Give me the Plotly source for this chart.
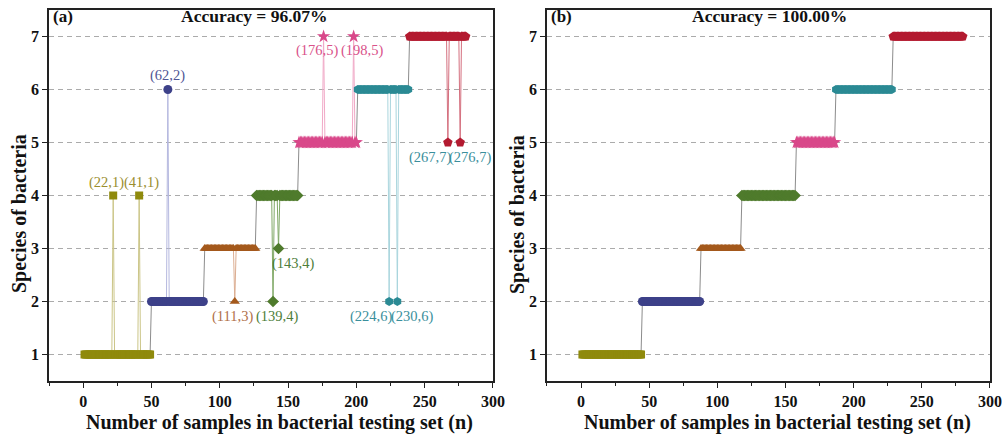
import plotly.graph_objects as go

# ---------------- data ----------------
class_names = [1, 2, 3, 4, 5, 6, 7]
n_samples = 280
# first sample index of each true class (panel a / panel b)
class_start_a = [1, 50, 89, 127, 158, 201, 239]
class_start_b = [1, 45, 88, 118, 158, 187, 229]
# misclassified samples in panel (a): sample index, true class, predicted class
err_x = [22, 41, 62, 111, 139, 143, 176, 198, 224, 230, 267, 276]
err_true = [1, 1, 2, 3, 4, 4, 5, 5, 6, 6, 7, 7]
err_pred = [4, 4, 6, 2, 2, 3, 7, 7, 2, 2, 5, 5]
acc_a = "Accuracy = 96.07%"
acc_b = "Accuracy = 100.00%"
x_title = "Number of samples in bacterial testing set (n)"
y_title = "Species of bacteria"
x_ticks = [0, 50, 100, 150, 200, 250, 300]
y_ticks = [1, 2, 3, 4, 5, 6, 7]

# ---------------- style ----------------
colors = ["#8f8a0c", "#3d4189", "#a4591c", "#4f7b2c", "#d9488a", "#2b8a94", "#b31a30"]
spike_colors = ["#cbc587", "#b5b8df", "#dcae92", "#7fa866", "#f1a9c7", "#a9d5dd", "#d5707f"]
label_colors = ["#9a8e2e", "#4f5595", "#b07049", "#4e7e3a", "#d9528a", "#3a8f9c", "#3a8f9c"]
symbols = ["square", "circle", "triangle-up", "diamond", "star", "hexagon", "pentagon"]
sizes = [8, 9, 9, 9, 10, 9, 10]
# label pixel offsets (xshift, yshift) for each misclassified label
lab_shift = [(-7, 13), (2, 13), (0, 14), (-2, -15), (4, -15), (14, -15),
             (-7, -14), (8, -14), (-18, -15), (15, -15), (-18, -15), (10, -15)]

SERIF = "Liberation Serif"

fig = go.Figure()


def build_panel(starts, errors, xa, ya):
    xs = list(range(1, n_samples + 1))
    true = []
    for i in xs:
        c = 1
        for k, s in enumerate(starts):
            if i >= s:
                c = class_names[k]
        true.append(c)
    pred = list(true)
    for ex, et, ep in errors:
        pred[ex - 1] = ep
    # gray transitions between classes
    gx, gy = [], []
    for k in range(1, len(starts)):
        s = starts[k]
        gx += [s - 1, s, None]
        gy += [pred[s - 2], pred[s - 1], None]
    fig.add_trace(go.Scatter(x=gx, y=gy, mode="lines", xaxis=xa, yaxis=ya,
                             line=dict(color="#8c8c8c", width=1), showlegend=False,
                             hoverinfo="skip"))
    for k, c in enumerate(class_names):
        cx = [x for x, t in zip(xs, true) if t == c]
        cy = [pred[x - 1] for x in cx]
        fig.add_trace(go.Scatter(x=cx, y=cy, mode="lines", xaxis=xa, yaxis=ya,
                                 line=dict(color=spike_colors[k], width=1),
                                 showlegend=False, hoverinfo="skip"))
    for k, c in enumerate(class_names):
        cx = [x for x, t in zip(xs, true) if t == c]
        cy = [pred[x - 1] for x in cx]
        fig.add_trace(go.Scatter(x=cx, y=cy, mode="markers", xaxis=xa, yaxis=ya,
                                 marker=dict(color=colors[k], symbol=symbols[k], size=sizes[k],
                                             line=dict(width=0)),
                                 name=str(c), showlegend=False))


build_panel(class_start_a, list(zip(err_x, err_true, err_pred)), "x", "y")
build_panel(class_start_b, [], "x2", "y2")

# misclassification labels in panel (a)
for (ex, et, ep), (dx, dy) in zip(zip(err_x, err_true, err_pred), lab_shift):
    fig.add_annotation(x=ex, y=ep, xref="x", yref="y", text=f"({ex},{et})",
                       showarrow=False, xshift=dx, yshift=dy,
                       font=dict(family=SERIF, size=14.5, color=label_colors[et - 1]))

# panel labels, accuracy titles, axis titles
for xr, yr, lab, acc, ax in [("x domain", "y domain", "(a)", acc_a, 0.464),
                             ("x2 domain", "y2 domain", "(b)", acc_b, 0.503)]:
    fig.add_annotation(x=0.004, y=0.983, xref=xr, yref=yr, text=f"<b>{lab}</b>",
                       showarrow=False, xanchor="left", yanchor="middle",
                       font=dict(family=SERIF, size=17, color="#111"))
    fig.add_annotation(x=ax, y=0.983, xref=xr, yref=yr, text=f"<b>{acc}</b>",
                       showarrow=False, xanchor="center", yanchor="middle",
                       font=dict(family=SERIF, size=17.5, color="#111"))
    fig.add_annotation(x=0.52, y=0, xref=xr, yref=yr, text=f"<b>{x_title}</b>",
                       showarrow=False, xanchor="center", yanchor="middle", yshift=-41,
                       font=dict(family=SERIF, size=20, color="#111"))
    fig.add_annotation(x=0, y=0.45, xref=xr, yref=yr, text=f"<b>{y_title}</b>",
                       showarrow=False, xanchor="center", yanchor="middle", xshift=-30,
                       textangle=-90, font=dict(family=SERIF, size=20, color="#111"))

xaxis_common = dict(range=[-25, 300], tickvals=x_ticks, ticks="outside", ticklen=5,
                    tickwidth=1.3, tickcolor="#222",
                    minor=dict(dtick=25, tick0=0, ticks="outside", ticklen=3, tickwidth=1,
                               tickcolor="#222", showgrid=False),
                    showline=True, linecolor="#222", linewidth=1.6, mirror=True,
                    showgrid=False, zeroline=False, automargin=False,
                    tickfont=dict(family=SERIF, size=16, color="#111", weight="bold"))
yaxis_common = dict(range=[0.5, 7.5], tickvals=y_ticks, ticks="outside", ticklen=5,
                    tickwidth=1.3, tickcolor="#222",
                    showline=True, linecolor="#222", linewidth=1.6, mirror=True,
                    showgrid=True, gridcolor="#ababab", gridwidth=1.2, griddash="5px,4px",
                    zeroline=False, layer="above traces", automargin=False,
                    tickfont=dict(family=SERIF, size=16, color="#111", weight="bold"))

fig.update_layout(
    width=1002, height=435,
    margin=dict(l=49, r=12, t=10, b=54),
    paper_bgcolor="white", plot_bgcolor="white",
    showlegend=False,
    xaxis=dict(domain=[0, 0.4718], anchor="y", **xaxis_common),
    yaxis=dict(domain=[0, 1], anchor="x", **yaxis_common),
    xaxis2=dict(domain=[0.5292, 1], anchor="y2", **xaxis_common),
    yaxis2=dict(domain=[0, 1], anchor="x2", **yaxis_common),
)

fig.write_html("out.html")
